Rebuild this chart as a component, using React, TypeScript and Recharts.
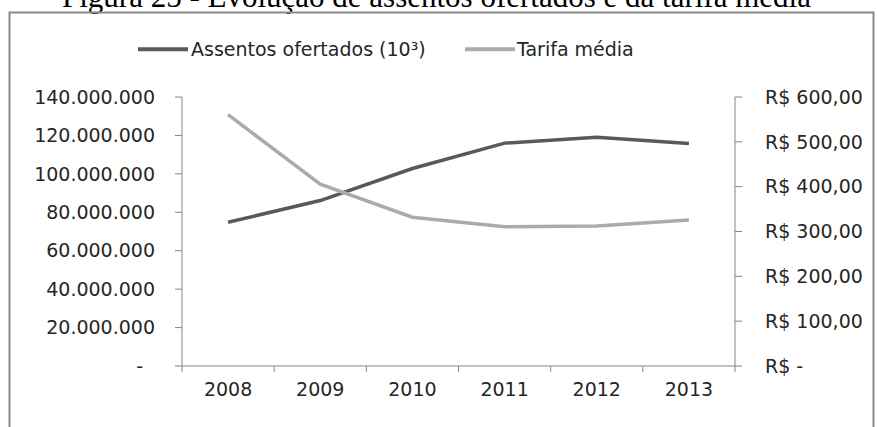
import React from 'react';
import { LineChart, Line, XAxis, YAxis, Legend } from 'recharts';

const years = ['2008', '2009', '2010', '2011', '2012', '2013'];
const seats = [74800000, 86100000, 102800000, 116000000, 119100000, 115800000];
const fares = [560.5, 405.5, 331.8, 310.7, 312.3, 325.7];
const leftTicks = [0, 20000000, 40000000, 60000000, 80000000, 100000000, 120000000, 140000000];
const rightTicks = [0, 100, 200, 300, 400, 500, 600];
const xTicks = [-0.5, 0, 0.5, 1, 1.5, 2, 2.5, 3, 3.5, 4, 4.5, 5, 5.5];
const seriesNames = ['Assentos ofertados (10³)', 'Tarifa média'];
const seriesColors = ['#595959', '#ABABAB'];
const title = 'Figura 25 - Evolução de assentos ofertados e da tarifa média';

const data = years.map((y, i) => ({ idx: i, year: y, seats: seats[i], fare: fares[i] }));

const FONT = "'DejaVu Sans', sans-serif";
const TEXT = '#262626';
const AXIS = '#868686';

const fmtThousands = (v: number) =>
  v === 0 ? '-' : String(Math.round(v)).replace(/\B(?=(\d{3})+(?!\d))/g, '.');
const fmtMoney = (v: number) =>
  v === 0 ? 'R$ -' : 'R$ ' + v.toFixed(2).replace('.', ',');

const XTick = (props: any) => {
  const { x, y, payload } = props;
  const v = payload.value as number;
  if (Number.isInteger(v)) {
    return (
      <text x={x} y={y + 17} dy="0.71em" textAnchor="middle" fill={TEXT} fontSize={19} fontFamily={FONT}>
        {years[v]}
      </text>
    );
  }
  return <line x1={x} y1={y} x2={x} y2={y + 6} stroke={AXIS} strokeWidth={1} />;
};

const LeftTick = (props: any) => {
  const { x, y, payload } = props;
  const v = payload.value as number;
  return (
    <text x={v === 0 ? x - 12 : x} y={y} dy="0.355em" textAnchor="end" fill={TEXT} fontSize={19} fontFamily={FONT}>
      {fmtThousands(v)}
    </text>
  );
};

const RightTick = (props: any) => {
  const { x, y, payload } = props;
  return (
    <text x={x} y={y} dy="0.355em" textAnchor="start" fill={TEXT} fontSize={19} fontFamily={FONT}>
      {fmtMoney(payload.value)}
    </text>
  );
};

const renderLegend = () => (
  <svg width={877} height={30} style={{ display: 'block' }}>
    <line x1={138} y1={14.3} x2={188} y2={14.3} stroke={seriesColors[0]} strokeWidth={4} />
    <text x={191} y={21} fontSize={19} fontFamily={FONT} fill={TEXT}>{seriesNames[0]}</text>
    <line x1={465} y1={14.3} x2={515} y2={14.3} stroke={seriesColors[1]} strokeWidth={4} />
    <text x={517} y={21} fontSize={19} fontFamily={FONT} fill={TEXT}>{seriesNames[1]}</text>
  </svg>
);

export default function App() {
  return (
    <div style={{ position: 'fixed', left: 0, top: 0, width: 877, height: 427, overflow: 'hidden', background: '#fff' }}>
      <svg width={877} height={427} style={{ position: 'absolute', left: 0, top: 0 }}>
        <text x={62} y={6.5} fontSize={31} fontFamily="'Liberation Serif', 'Times New Roman', serif" fill="#000">
          {title}
        </text>
        <rect x={9.5} y={12.5} width={864} height={440} fill="none" stroke="#8a8a8a" strokeWidth={2} />
      </svg>
      <div style={{ position: 'absolute', left: 0, top: 0 }}>
        <LineChart
          width={877}
          height={427}
          data={data}
          margin={{ top: 97, right: 42, bottom: 0, left: 82 }}
          style={{ fontFamily: FONT }}
        >
          <XAxis
            dataKey="idx"
            type="number"
            domain={[-0.5, 5.5]}
            ticks={xTicks}
            interval={0}
            height={61}
            tickSize={0}
            tickMargin={0}
            tickLine={false}
            axisLine={{ stroke: AXIS, strokeWidth: 1 }}
            tick={<XTick />}
            allowDataOverflow
          />
          <YAxis
            yAxisId="left"
            orientation="left"
            width={100}
            domain={[0, 140000000]}
            ticks={leftTicks}
            interval={0}
            tickSize={7}
            tickMargin={20}
            tickLine={{ stroke: AXIS, strokeWidth: 1 }}
            axisLine={{ stroke: AXIS, strokeWidth: 1 }}
            tick={<LeftTick />}
          />
          <YAxis
            yAxisId="right"
            orientation="right"
            width={100}
            domain={[0, 600]}
            ticks={rightTicks}
            interval={0}
            tickSize={7}
            tickMargin={23}
            tickLine={{ stroke: AXIS, strokeWidth: 1 }}
            axisLine={{ stroke: AXIS, strokeWidth: 1 }}
            tick={<RightTick />}
          />
          <Legend
            layout="vertical"
            verticalAlign="middle"
            align="center"
            wrapperStyle={{ top: 35, left: 0, width: 877, height: 30 }}
            content={renderLegend}
          />
          <Line
            yAxisId="left"
            dataKey="seats"
            name={seriesNames[0]}
            stroke={seriesColors[0]}
            strokeWidth={3.5}
            dot={false}
            activeDot={false}
            isAnimationActive={false}
          />
          <Line
            yAxisId="right"
            dataKey="fare"
            name={seriesNames[1]}
            stroke={seriesColors[1]}
            strokeWidth={3.5}
            dot={false}
            activeDot={false}
            isAnimationActive={false}
          />
        </LineChart>
      </div>
    </div>
  );
}
